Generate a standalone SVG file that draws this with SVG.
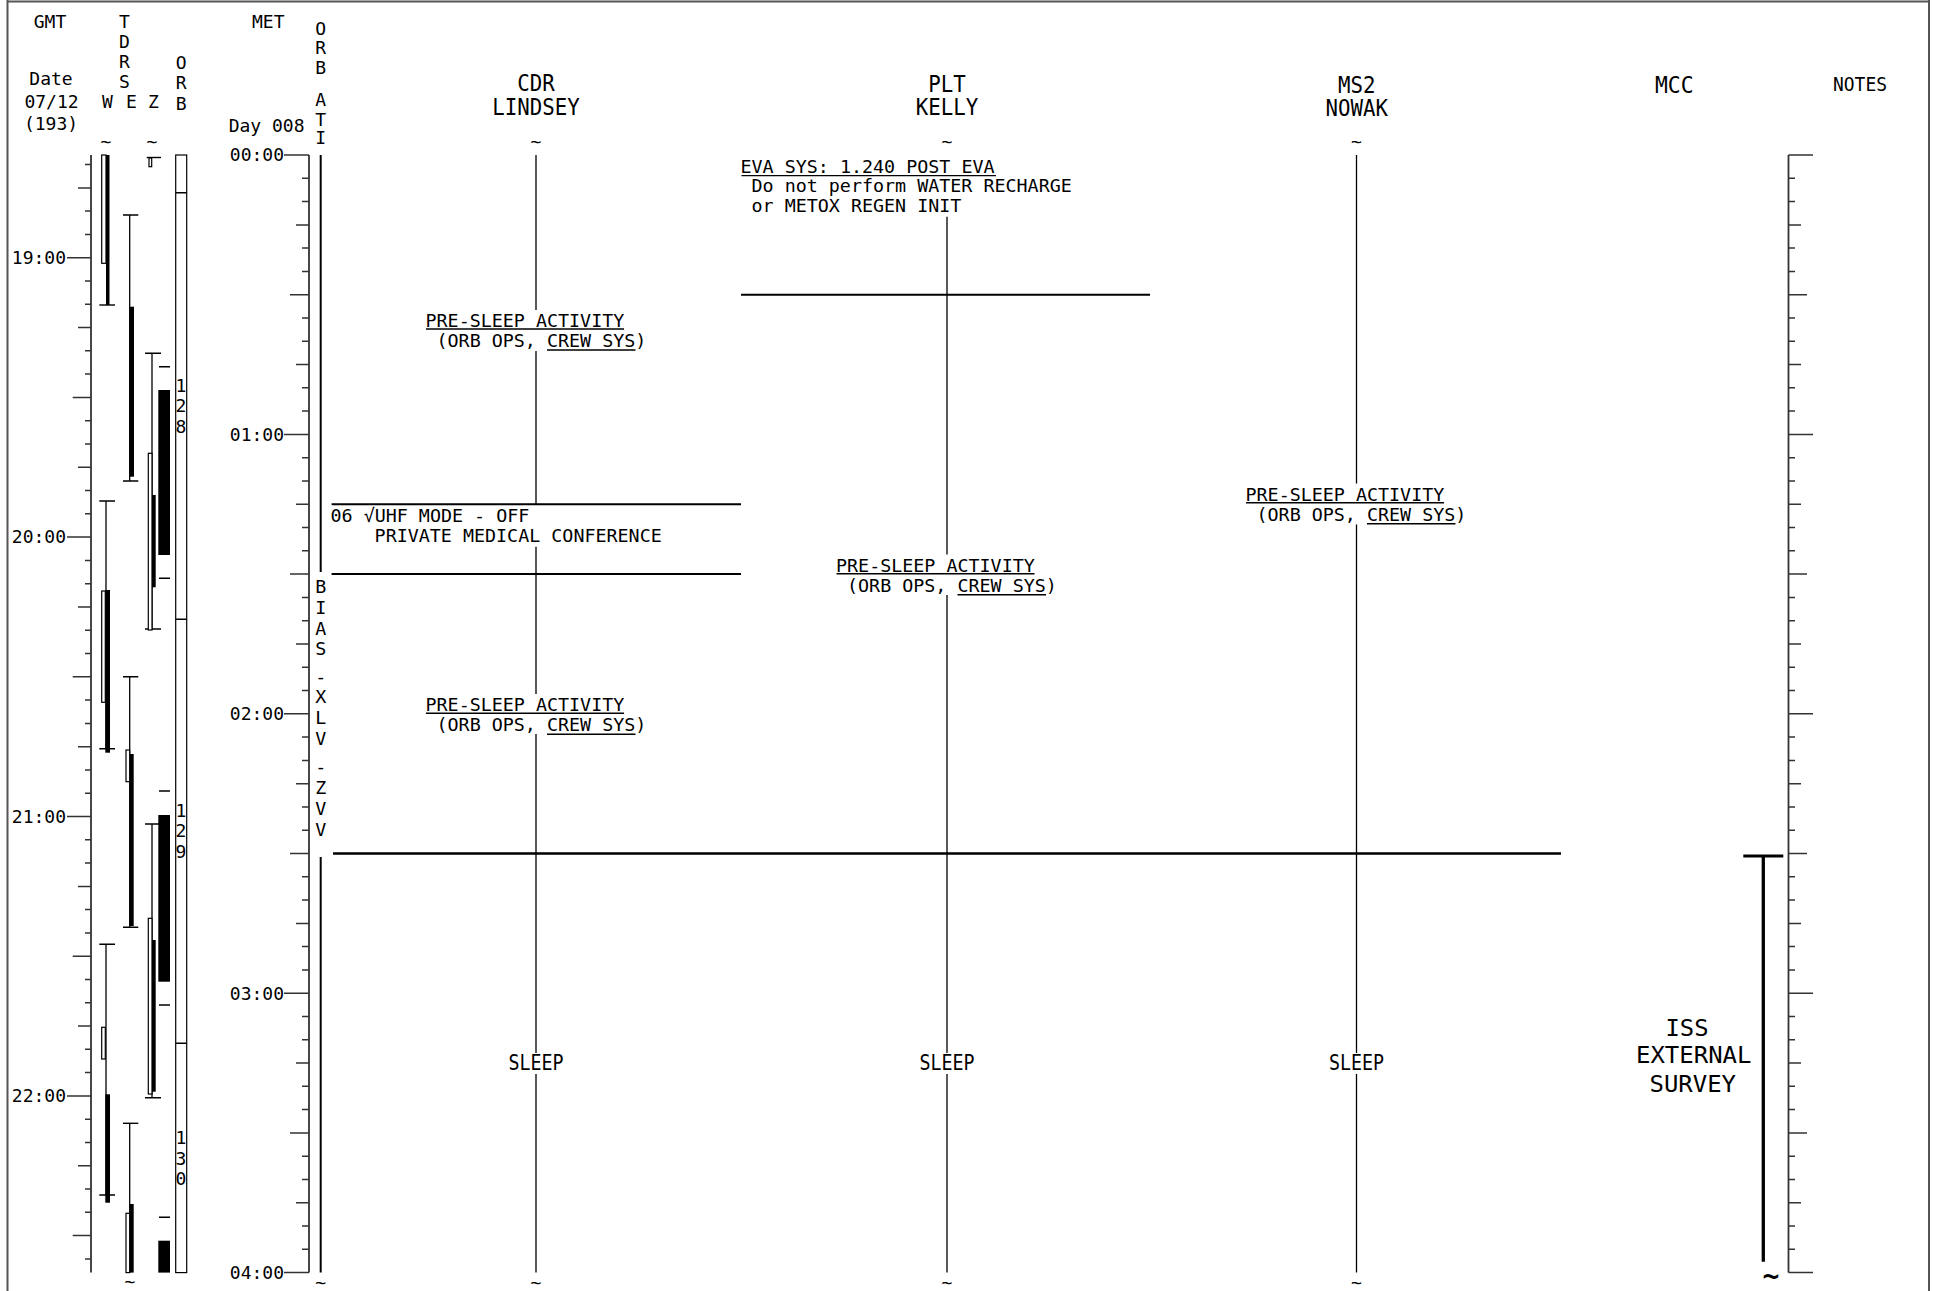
<svg xmlns="http://www.w3.org/2000/svg" width="1933" height="1291" viewBox="0 0 1933 1291">
<style>
text{font-family:'DejaVu Sans Mono','Liberation Mono',monospace;fill:#000}
.s{font-size:18px}
.b{font-size:18.35px}
.h{font-size:23px}
.c{text-anchor:middle}
.e{text-anchor:end}
.ln{stroke:#000;stroke-width:1.3;fill:none}
.hl{stroke:#000;stroke-width:2;fill:none}
.ul{stroke:#000;stroke-width:1.4;fill:none}
.ax{stroke:#333;stroke-width:1.8;fill:none}
.tk{stroke:#333;stroke-width:1.5;fill:none}
.op{fill:#fff;stroke:#000;stroke-width:1.2}
.bk{fill:#000}
.cap{stroke:#000;stroke-width:1.4;fill:none}
.iss{font-size:22.8px}
</style>
<rect x="0" y="0" width="1933" height="1291" fill="#fff"/>
<g id="frame">
<path d="M7.5 0V1291M7.5 1.5H1929M1929 0V1291" stroke="#555" stroke-width="2" fill="none"/>
</g>
<g id="left-headers">
<text class="s c" x="50" y="28.3">GMT</text>
<text class="s c" x="51" y="85">Date</text>
<text class="s c" x="51.5" y="108.3">07/12</text>
<text class="s c" x="51" y="130">(193)</text>
<text class="s c" x="124.5" y="28.3">T</text>
<text class="s c" x="124.5" y="47.5">D</text>
<text class="s c" x="124.5" y="67.5">R</text>
<text class="s c" x="124.5" y="87.5">S</text>
<text class="s c" x="107.5" y="108.3">W</text>
<text class="s c" x="131.3" y="108.3">E</text>
<text class="s c" x="153.3" y="108.3">Z</text>
<text class="s c" x="181.2" y="68.5">O</text>
<text class="s c" x="181.2" y="89">R</text>
<text class="s c" x="181.2" y="109.5">B</text>
<text class="s c" x="268.3" y="28.3">MET</text>
<text class="s e" x="304.5" y="131.5">Day 008</text>
<text class="s c" x="320.7" y="35">O</text>
<text class="s c" x="320.7" y="54">R</text>
<text class="s c" x="320.7" y="74">B</text>
<text class="s c" x="320.7" y="106">A</text>
<text class="s c" x="320.7" y="126">T</text>
<text class="s c" x="320.7" y="143.5">I</text>
<text class="s c" x="106" y="148">~</text>
<text class="s c" x="152" y="148">~</text>
</g>
<g id="gmt-axis">
<path class="ax" d="M91 155V1272.6"/>
<path class="tk" d="M85 164.6H91M85 211.1H91M85 234.4H91M85 281H91M85 304.3H91M85 350.8H91M85 374.1H91M85 420.7H91M85 444H91M85 490.5H91M85 513.8H91M85 560.4H91M85 583.7H91M85 630.2H91M85 653.5H91M85 700.1H91M85 723.4H91M85 769.9H91M85 793.2H91M85 839.8H91M85 863.1H91M85 909.6H91M85 932.9H91M85 979.5H91M85 1002.8H91M85 1049.3H91M85 1072.6H91M85 1119.2H91M85 1142.5H91M85 1189H91M85 1212.3H91M85 1258.9H91
M78 187.9H91M78 327.6H91M78 467.3H91M78 607H91M78 746.7H91M78 886.4H91M78 1026.1H91M78 1165.8H91
M72.7 397.4H91M72.7 676.8H91M72.7 956.2H91M72.7 1235.6H91
M67 257.7H91M67 537.1H91M67 816.5H91M67 1095.9H91"/>
<text class="s e" x="66" y="264">19:00</text>
<text class="s e" x="66" y="543.4">20:00</text>
<text class="s e" x="66" y="822.8">21:00</text>
<text class="s e" x="66" y="1102.2">22:00</text>
</g>
<g id="tdrs-w">
<rect class="op" x="101.7" y="155" width="4.3" height="108.3"/>
<rect class="bk" x="106" y="155" width="3.5" height="150"/>
<path class="cap" d="M99.3 305H115"/>
<path class="ln" d="M106 501V748.7"/>
<path class="cap" d="M99.3 501H115M99.3 748.7H115"/>
<rect class="op" x="101.7" y="591" width="3.6" height="111.3"/>
<rect class="bk" x="105.3" y="590" width="4.7" height="162.7"/>
<path class="ln" d="M106 944.3V1195"/>
<path class="cap" d="M99.3 944.3H115M99.3 1195H115"/>
<rect class="op" x="101.7" y="1027.3" width="3.6" height="31.7"/>
<rect class="bk" x="105.3" y="1094.3" width="4.7" height="108.4"/>
</g>
<g id="tdrs-e">
<path class="ln" d="M129.7 215V481"/>
<path class="cap" d="M123 215H138.3M123 481H138.3"/>
<rect class="bk" x="129.7" y="306.7" width="4.3" height="170"/>
<path class="ln" d="M129.7 676.7V927.3"/>
<path class="cap" d="M123 676.7H138.3M123 927.3H138.3"/>
<rect class="op" x="126" y="750" width="3.7" height="31.7"/>
<rect class="bk" x="129.7" y="754" width="4" height="172"/>
<path class="ln" d="M129.7 1123.3V1272.6"/>
<path class="cap" d="M123 1123.3H138.3"/>
<rect class="op" x="126" y="1213.3" width="3.7" height="59.3"/>
<rect class="bk" x="129.7" y="1204" width="4" height="68.6"/>
<text class="s c" x="130" y="1288">~</text>
</g>
<g id="tdrs-z">
<path class="cap" d="M146.7 157.5H161"/>
<rect class="op" x="149" y="158" width="2.7" height="8.7"/>
<path class="ln" d="M152 353.3V629"/>
<path class="cap" d="M145 353.3H161M145 629H161"/>
<rect class="op" x="148.3" y="453.3" width="3.7" height="176.7"/>
<rect class="bk" x="152" y="495" width="3.7" height="92.3"/>
<path class="ln" d="M152 824V1097.7"/>
<path class="cap" d="M145 824H161M145 1097.7H161"/>
<rect class="op" x="148.3" y="918.3" width="3.7" height="175.7"/>
<rect class="bk" x="152" y="940" width="3.7" height="151.7"/>
<path class="cap" d="M159 366.7H170M159 578.3H170M159 791H170M159 1005H170M159 1217.3H170"/>
<rect class="bk" x="158.3" y="390" width="11.7" height="165"/>
<rect class="bk" x="158.3" y="815" width="11.7" height="166.7"/>
<rect class="bk" x="158.3" y="1240.7" width="11.7" height="31.9"/>
</g>
<g id="orb">
<rect class="op" x="175.7" y="155" width="11" height="1117.6"/>
<path class="cap" d="M175.7 192.7H186.7M175.7 619.3H186.7M175.7 1043.3H186.7"/>
<text class="s c" x="181" y="391.5">1</text>
<text class="s c" x="181" y="412">2</text>
<text class="s c" x="181" y="432.5">8</text>
<text class="s c" x="181" y="816.5">1</text>
<text class="s c" x="181" y="837">2</text>
<text class="s c" x="181" y="857.5">9</text>
<text class="s c" x="181" y="1144">1</text>
<text class="s c" x="181" y="1164.5">3</text>
<text class="s c" x="181" y="1185">0</text>
</g>
<g id="met-axis">
<path class="ax" d="M309 155V1272.6"/>
<path class="tk" d="M302 178.3H309M302 201.6H309M302 248.1H309M302 271.4H309M302 318H309M302 341.3H309M302 387.8H309M302 411.1H309M302 457.7H309M302 481H309M302 527.5H309M302 550.8H309M302 597.4H309M302 620.7H309M302 667.2H309M302 690.5H309M302 737.1H309M302 760.4H309M302 806.9H309M302 830.2H309M302 876.8H309M302 900.1H309M302 946.6H309M302 969.9H309M302 1016.5H309M302 1039.8H309M302 1086.3H309M302 1109.6H309M302 1156.2H309M302 1179.5H309M302 1226H309M302 1249.3H309
M296 224.9H309M296 364.6H309M296 504.3H309M296 644H309M296 783.7H309M296 923.4H309M296 1063.1H309M296 1202.8H309
M290 294.7H309M290 574.1H309M290 853.5H309M290 1132.9H309
M284 155H309M284 434.4H309M284 713.8H309M284 993.2H309M284 1272.6H309"/>
<text class="s e" x="284" y="161.3">00:00</text>
<text class="s e" x="284" y="440.7">01:00</text>
<text class="s e" x="284" y="720.1">02:00</text>
<text class="s e" x="284" y="999.5">03:00</text>
<text class="s e" x="284" y="1278.9">04:00</text>
</g>
<g id="orb-ati">
<path d="M320.7 155V572M320.7 857V1272.6" stroke="#000" stroke-width="2" fill="none"/>
<text class="b c" x="320.7" y="593.3">B</text>
<text class="b c" x="320.7" y="614">I</text>
<text class="b c" x="320.7" y="634.7">A</text>
<text class="b c" x="320.7" y="655.4">S</text>
<text class="b c" x="320.7" y="683">-</text>
<text class="b c" x="320.7" y="703.3">X</text>
<text class="b c" x="320.7" y="724">L</text>
<text class="b c" x="320.7" y="745">V</text>
<text class="b c" x="320.7" y="773">-</text>
<text class="b c" x="320.7" y="794">Z</text>
<text class="b c" x="320.7" y="815">V</text>
<text class="b c" x="320.7" y="835.7">V</text>
<text class="s c" x="320.7" y="1289">~</text>
</g>
<g id="col-cdr">
<text class="h" x="517.3" y="91" textLength="37.5" lengthAdjust="spacingAndGlyphs">CDR</text>
<text class="h" x="492.3" y="114.5" textLength="87.5" lengthAdjust="spacingAndGlyphs">LINDSEY</text>
<text class="s c" x="536" y="148">~</text>
<text class="s c" x="536" y="1289">~</text>
</g>
<g id="col-plt">
<text class="h" x="928.3" y="91.5" textLength="37.5" lengthAdjust="spacingAndGlyphs">PLT</text>
<text class="h" x="915.8" y="115" textLength="62.5" lengthAdjust="spacingAndGlyphs">KELLY</text>
<text class="s c" x="947" y="148">~</text>
<text class="s c" x="947" y="1289">~</text>
</g>
<g id="col-ms2">
<text class="h" x="1337.9" y="92.5" textLength="37.5" lengthAdjust="spacingAndGlyphs">MS2</text>
<text class="h" x="1325.4" y="116" textLength="62.5" lengthAdjust="spacingAndGlyphs">NOWAK</text>
<text class="s c" x="1356.5" y="148">~</text>
<text class="s c" x="1356.5" y="1289">~</text>
</g>
<g id="col-mcc">
<text class="h" x="1655" y="92.5" textLength="38.6" lengthAdjust="spacingAndGlyphs">MCC</text>
</g>
<g id="col-notes">
<text x="1833" y="91" font-size="20" textLength="54" lengthAdjust="spacingAndGlyphs">NOTES</text>
<path class="ax" d="M1788.5 155V1272.6"/>
<path class="tk" d="M1788.5 178.3H1795M1788.5 201.6H1795M1788.5 248.1H1795M1788.5 271.4H1795M1788.5 318H1795M1788.5 341.3H1795M1788.5 387.8H1795M1788.5 411.1H1795M1788.5 457.7H1795M1788.5 481H1795M1788.5 527.5H1795M1788.5 550.8H1795M1788.5 597.4H1795M1788.5 620.7H1795M1788.5 667.2H1795M1788.5 690.5H1795M1788.5 737.1H1795M1788.5 760.4H1795M1788.5 806.9H1795M1788.5 830.2H1795M1788.5 876.8H1795M1788.5 900.1H1795M1788.5 946.6H1795M1788.5 969.9H1795M1788.5 1016.5H1795M1788.5 1039.8H1795M1788.5 1086.3H1795M1788.5 1109.6H1795M1788.5 1156.2H1795M1788.5 1179.5H1795M1788.5 1226H1795M1788.5 1249.3H1795
M1788.5 224.9H1801M1788.5 364.6H1801M1788.5 504.3H1801M1788.5 644H1801M1788.5 783.7H1801M1788.5 923.4H1801M1788.5 1063.1H1801M1788.5 1202.8H1801
M1788.5 294.7H1807M1788.5 574.1H1807M1788.5 853.5H1807M1788.5 1132.9H1807
M1788.5 155H1813M1788.5 434.4H1813M1788.5 713.8H1813M1788.5 993.2H1813M1788.5 1272.6H1813"/>
</g>
<g id="connectors">
<path class="ln" d="M536 155V310M536 351V504.3M536 546.7V694M536 734V1053M536 1074V1272.6"/>
<path class="ln" d="M947 216.7V554.5M947 595V1053M947 1074V1272.6"/>
<path class="ln" d="M1356.5 155V483.5M1356.5 524.5V1053M1356.5 1074V1272.6"/>
<path class="hl" d="M741 294.7H1150"/>
<path class="hl" d="M331.6 504.3H741M331.6 574.1H741"/>
<path d="M333 853.5H1561" stroke="#000" stroke-width="2.5" fill="none"/>
</g>
<g id="note-eva">
<text class="b" x="740.5" y="173.3">EVA SYS: 1.240 POST EVA</text>
<path class="ul" d="M741.5 175.6H996"/>
<text class="b" x="751.5" y="191.7">Do not perform WATER RECHARGE</text>
<text class="b" x="751.5" y="211.7">or METOX REGEN INIT</text>
</g>
<g id="note-uhf">
<text class="b" x="330.5" y="521.7">06 √UHF MODE - OFF</text>
<text class="b" x="374.6" y="541.7">PRIVATE MEDICAL CONFERENCE</text>
</g>
<g id="cdr-presleep-1">
<text class="b" x="425.5" y="326.7">PRE-SLEEP ACTIVITY</text>
<path class="ul" d="M426 329H624"/>
<text class="b" x="436.5" y="346.7">(ORB OPS, CREW SYS)</text>
<path class="ul" d="M547 350H635.5"/>
</g>
<g id="cdr-presleep-2">
<text class="b" x="425.5" y="711">PRE-SLEEP ACTIVITY</text>
<path class="ul" d="M426 713.3H624"/>
<text class="b" x="436.5" y="731">(ORB OPS, CREW SYS)</text>
<path class="ul" d="M547 734.3H635.5"/>
</g>
<g id="plt-presleep">
<text class="b" x="836" y="571.5">PRE-SLEEP ACTIVITY</text>
<path class="ul" d="M836.5 573.8H1034.5"/>
<text class="b" x="847" y="591.5">(ORB OPS, CREW SYS)</text>
<path class="ul" d="M957.5 594.8H1046"/>
</g>
<g id="ms2-presleep">
<text class="b" x="1245.5" y="500.5">PRE-SLEEP ACTIVITY</text>
<path class="ul" d="M1246 502.8H1444"/>
<text class="b" x="1256.5" y="520.5">(ORB OPS, CREW SYS)</text>
<path class="ul" d="M1367 523.8H1455.5"/>
</g>
<g id="sleep-labels">
<text x="508.5" y="1070" font-size="20.5" textLength="55" lengthAdjust="spacingAndGlyphs">SLEEP</text>
<text x="919.5" y="1070" font-size="20.5" textLength="55" lengthAdjust="spacingAndGlyphs">SLEEP</text>
<text x="1329" y="1070" font-size="20.5" textLength="55" lengthAdjust="spacingAndGlyphs">SLEEP</text>
</g>
<g id="mcc-survey">
<path d="M1743.3 856H1783.3" stroke="#000" stroke-width="3" fill="none"/>
<path d="M1763.3 856V1261.7" stroke="#000" stroke-width="3.3" fill="none"/>
<text class="iss" x="1665.5" y="1036" textLength="43" lengthAdjust="spacingAndGlyphs">ISS</text>
<text class="iss" x="1636" y="1063" textLength="115.5" lengthAdjust="spacingAndGlyphs">EXTERNAL</text>
<text class="iss" x="1649.5" y="1091.5" textLength="86.5" lengthAdjust="spacingAndGlyphs">SURVEY</text>
<text x="1771" y="1284.5" font-size="28" font-weight="bold" text-anchor="middle">~</text>
</g>
</svg>
